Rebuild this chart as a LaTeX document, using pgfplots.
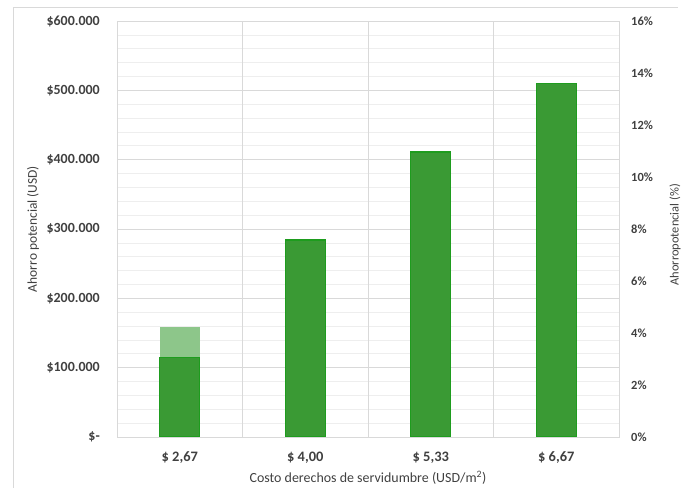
\documentclass[border=0pt]{standalone}
\usepackage{pgfplots}
\pgfplotsset{compat=1.18}
\usepackage{fontspec}
\setmainfont{Carlito}

\definecolor{gridgray}{HTML}{D9D9D9}
\definecolor{minorgray}{HTML}{EEEEEE}
\definecolor{textgray}{HTML}{404040}
\definecolor{barfill}{HTML}{3A9A34}
\definecolor{baredge}{HTML}{1E9C1E}
\definecolor{barlight}{HTML}{8DC68A}

\begin{document}
\begin{tikzpicture}
\useasboundingbox (0,0) rectangle (684bp,488bp);
% chart area frame
\draw[gridgray, line width=0.8bp] (13bp,0bp) -- (13bp,481bp) -- (678bp,481bp);

% primary axis: savings in USD
\begin{axis}[
  at={(117bp,51bp)}, anchor=south west,
  scale only axis, width=502bp, height=416bp,
  xmin=-0.5, xmax=3.5,
  ymin=0, ymax=600000,
  scaled y ticks=false,
  axis line style={draw=gridgray, line width=0.8bp},
  major tick length=0pt, minor tick length=0pt,
  xtick={0,1,2,3},
  xticklabels={{\$ 2,67},{\$ 4,00},{\$ 5,33},{\$ 6,67}},
  extra x ticks={0.5,1.5,2.5},
  extra x tick labels={},
  extra x tick style={grid=major, major grid style={draw=gridgray, line width=0.8bp}},
  ytick={0,100000,200000,300000,400000,500000,600000},
  yticklabels={{\$-\hspace{5bp}},{\$100.000},{\$200.000},{\$300.000},{\$400.000},{\$500.000},{\$600.000}},
  minor y tick num=4,
  ymajorgrids, yminorgrids,
  major grid style={draw=gridgray, line width=0.8bp},
  minor grid style={draw=minorgray, line width=0.7bp},
  yticklabel style={anchor=east, inner sep=0pt, xshift=-17bp, font=\bfseries\fontsize{14}{16}\selectfont, text=textgray},
  xticklabel style={anchor=center, inner sep=0pt, yshift=-21bp, font=\bfseries\fontsize{14.5}{16}\selectfont, text=textgray},
  ylabel={Ahorro potencial (USD)},
  ylabel style={at={(axis description cs:-0.1673,0.5)}, anchor=center, font=\fontsize{13.5}{15}\selectfont, text=textgray},
  xlabel={Costo derechos de servidumbre (USD/m\textsuperscript{2})},
  xlabel style={at={(axis description cs:0.5,-0.0986)}, anchor=center, font=\fontsize{14}{16}\selectfont, text=textgray},
  ybar, bar width=40bp,
]
\addplot[fill=barlight, draw=none, bar shift=0pt] coordinates {(0,158000)};
\addplot[fill=barfill, draw=baredge, line width=1.3bp, bar shift=0pt]
  coordinates {(0,115000) (1,284000) (2,411000) (3,510000)};
\end{axis}

% secondary axis: savings in percent
\begin{axis}[
  at={(117bp,51bp)}, anchor=south west,
  scale only axis, width=502bp, height=416bp,
  xmin=-0.5, xmax=3.5,
  ymin=0, ymax=16,
  axis x line=none,
  axis y line*=right,
  axis line style={draw=none},
  major tick length=0pt,
  ytick={0,2,4,6,8,10,12,14,16},
  yticklabels={0\%,2\%,4\%,6\%,8\%,10\%,12\%,14\%,16\%},
  yticklabel style={anchor=west, inner sep=0pt, xshift=12bp, font=\bfseries\fontsize{12.5}{15}\selectfont, text=textgray},
  ylabel={Ahorropotencial (\%)},
  ylabel style={at={(axis description cs:1.1116,0.486)}, anchor=center, rotate=0, font=\fontsize{12.5}{15}\selectfont, text=textgray},
]
\end{axis}
\end{tikzpicture}
\end{document}
